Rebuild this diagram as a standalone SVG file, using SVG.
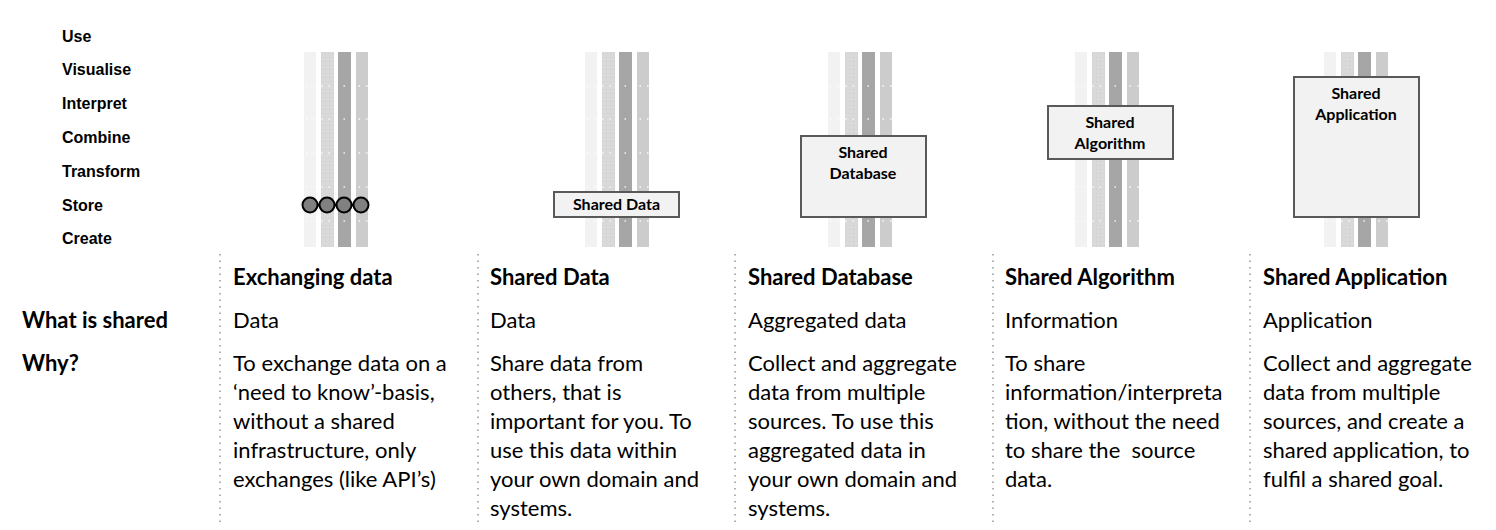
<svg xmlns="http://www.w3.org/2000/svg" width="1496" height="530" viewBox="0 0 1496 530">
<defs>
<pattern id="dots" width="4" height="4" patternUnits="userSpaceOnUse">
<rect width="4" height="4" fill="#d9d9d9"/>
<rect x="1" y="1" width="1" height="1" fill="#cbcbcb"/>
</pattern>
<g id="stripes">
<rect x="0" y="0" width="12" height="195" fill="#f2f2f2"/>
<rect x="17" y="0" width="13" height="195" fill="url(#dots)"/>
<rect x="34" y="0" width="13" height="195" fill="#a6a6a6"/>
<rect x="52" y="0" width="12" height="195" fill="#cccccc"/>
<g stroke="#ffffff" stroke-width="1.5" stroke-dasharray="1.5 6" opacity="0.85">
<line x1="2" y1="34" x2="64" y2="34"/>
<line x1="2" y1="67" x2="64" y2="67"/>
<line x1="2" y1="101" x2="64" y2="101"/>
<line x1="2" y1="135" x2="64" y2="135"/>
<line x1="2" y1="169" x2="64" y2="169"/>
</g>
</g>
</defs>
<style>
.lvl{font-family:"Liberation Sans",Arial,sans-serif;font-weight:bold;font-size:16px;fill:#000}
.hd{font-family:Lato,"Liberation Sans",sans-serif;font-weight:bold;font-size:22px;fill:#000}
.bd{font-family:Lato,"Liberation Sans",sans-serif;font-size:22px;fill:#000}
.bx{fill:#f2f2f2;stroke:#595959;stroke-width:2}
.bt{font-family:Lato,"Liberation Sans",sans-serif;font-weight:bold;font-size:16px;fill:#000;text-anchor:middle}
.sep{stroke:#b0b0b0;stroke-width:2;stroke-dasharray:1.5 5}
</style>
<rect width="1496" height="530" fill="#ffffff"/>

<g id="levels">
<text class="lvl" x="62" y="42">Use</text>
<text class="lvl" x="62" y="75">Visualise</text>
<text class="lvl" x="62" y="109">Interpret</text>
<text class="lvl" x="62" y="143">Combine</text>
<text class="lvl" x="62" y="177">Transform</text>
<text class="lvl" x="62" y="211">Store</text>
<text class="lvl" x="62" y="244">Create</text>
</g>

<g id="separators">
<line class="sep" x1="220" y1="254" x2="220" y2="526"/>
<line class="sep" x1="478" y1="254" x2="478" y2="526"/>
<line class="sep" x1="735" y1="254" x2="735" y2="526"/>
<line class="sep" x1="993" y1="254" x2="993" y2="526"/>
<line class="sep" x1="1250" y1="254" x2="1250" y2="526"/>
</g>

<g id="col-exchanging">
<use href="#stripes" x="304" y="52"/>
<line x1="310" y1="205" x2="361" y2="205" stroke="#000" stroke-width="3"/>
<g fill="#808080" stroke="#000" stroke-width="2">
<circle cx="310" cy="205" r="7.5"/>
<circle cx="327" cy="205" r="7.5"/>
<circle cx="344" cy="205" r="7.5"/>
<circle cx="361" cy="205" r="7.5"/>
</g>
</g>

<g id="col-shared-data">
<use href="#stripes" x="585" y="52"/>
<rect class="bx" x="554" y="192" width="125" height="25"/>
<text class="bt" x="616.5" y="210">Shared Data</text>
</g>

<g id="col-shared-database">
<use href="#stripes" x="828" y="52"/>
<rect class="bx" x="801" y="136" width="125" height="81"/>
<text class="bt" x="863" y="158">Shared</text>
<text class="bt" x="863" y="179">Database</text>
</g>

<g id="col-shared-algorithm">
<use href="#stripes" x="1075" y="52"/>
<rect class="bx" x="1048" y="106" width="125" height="53"/>
<text class="bt" x="1110" y="128">Shared</text>
<text class="bt" x="1110" y="149">Algorithm</text>
</g>

<g id="col-shared-application">
<use href="#stripes" x="1324" y="52"/>
<rect class="bx" x="1294" y="77" width="125" height="140"/>
<text class="bt" x="1356" y="99">Shared</text>
<text class="bt" x="1356" y="120">Application</text>
</g>

<g id="row-labels">
<text class="hd" x="22" y="328">What is shared</text>
<text class="hd" x="22" y="371">Why?</text>
</g>

<g id="text-exchanging">
<text class="hd" x="233" y="285">Exchanging data</text>
<text class="bd" x="233" y="328">Data</text>
<text class="bd" x="233" y="371">To exchange data on a</text>
<text class="bd" x="233" y="400">‘need to know’-basis,</text>
<text class="bd" x="233" y="429">without a shared</text>
<text class="bd" x="233" y="458">infrastructure, only</text>
<text class="bd" x="233" y="487">exchanges (like API’s)</text>
</g>

<g id="text-shared-data">
<text class="hd" x="490" y="285">Shared Data</text>
<text class="bd" x="490" y="328">Data</text>
<text class="bd" x="490" y="371">Share data from</text>
<text class="bd" x="490" y="400">others, that is</text>
<text class="bd" x="490" y="429">important for you. To</text>
<text class="bd" x="490" y="458">use this data within</text>
<text class="bd" x="490" y="487">your own domain and</text>
<text class="bd" x="490" y="516">systems.</text>
</g>

<g id="text-shared-database">
<text class="hd" x="748" y="285">Shared Database</text>
<text class="bd" x="748" y="328">Aggregated data</text>
<text class="bd" x="748" y="371">Collect and aggregate</text>
<text class="bd" x="748" y="400">data from multiple</text>
<text class="bd" x="748" y="429">sources. To use this</text>
<text class="bd" x="748" y="458">aggregated data in</text>
<text class="bd" x="748" y="487">your own domain and</text>
<text class="bd" x="748" y="516">systems.</text>
</g>

<g id="text-shared-algorithm">
<text class="hd" x="1005" y="285">Shared Algorithm</text>
<text class="bd" x="1005" y="328">Information</text>
<text class="bd" x="1005" y="371">To share</text>
<text class="bd" x="1005" y="400">information/interpreta</text>
<text class="bd" x="1005" y="429">tion, without the need</text>
<text class="bd" x="1005" y="458" xml:space="preserve">to share the  source</text>
<text class="bd" x="1005" y="487">data.</text>
</g>

<g id="text-shared-application">
<text class="hd" x="1263" y="285">Shared Application</text>
<text class="bd" x="1263" y="328">Application</text>
<text class="bd" x="1263" y="371">Collect and aggregate</text>
<text class="bd" x="1263" y="400">data from multiple</text>
<text class="bd" x="1263" y="429">sources, and create a</text>
<text class="bd" x="1263" y="458">shared application, to</text>
<text class="bd" x="1263" y="487">fulfil a shared goal.</text>
</g>
</svg>
